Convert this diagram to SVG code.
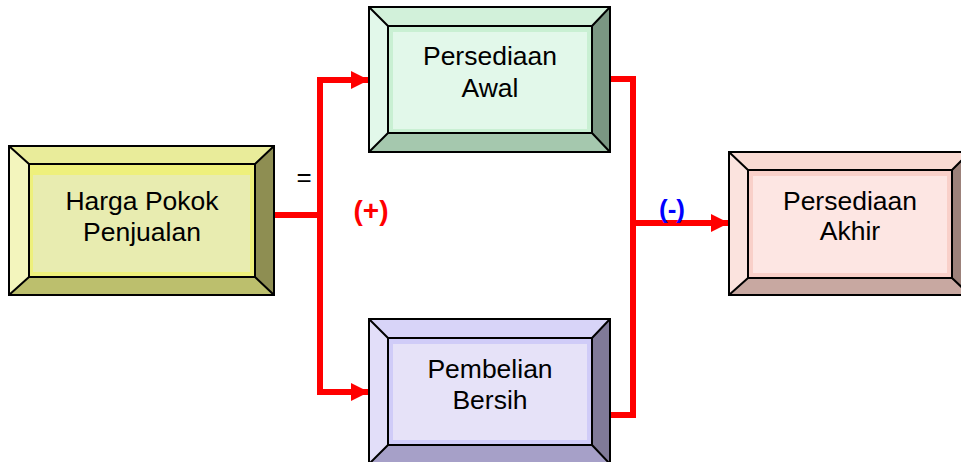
<svg xmlns="http://www.w3.org/2000/svg" width="961" height="462" viewBox="0 0 961 462">
<defs>
<style>
.edge{stroke:#000;stroke-width:2;stroke-linejoin:miter}
.lbl{font-family:"Liberation Sans",Arial,sans-serif;font-size:26.5px;fill:#000;text-anchor:middle}
.conn{fill:none;stroke:#ff0000;stroke-width:6;stroke-linejoin:miter}
.sym{font-family:"Liberation Sans",Arial,sans-serif;font-weight:bold;text-anchor:middle}
</style>
<marker id="arr" viewBox="0 0 10 10" refX="10" refY="5" markerWidth="3" markerHeight="3" markerUnits="strokeWidth" orient="auto">
<path d="M0,0 L10,5 L0,10 Z" fill="#ff0000"/>
</marker>
</defs>
<rect width="961" height="462" fill="#fff"/>

<g id="connectors">
<polyline class="conn" points="274,215 320,215"/>
<polyline class="conn" points="369,80 320,80 320,392 369,392" marker-end="url(#arr)"/>
<polyline class="conn" points="320,80 369,80" marker-end="url(#arr)"/>
<polyline class="conn" points="610,79 633,79 633,415 610,415"/>
<polyline class="conn" points="633,223 729,223" marker-end="url(#arr)"/>
</g>

<g id="node-hpp">
<polygon points="9,146 274,146 255,164 29,164" fill="#e9ec9a"/>
<polygon points="9,146 29,164 29,277 9,295" fill="#f3f5bd"/>
<polygon points="274,146 274,295 255,277 255,164" fill="#8e8e52"/>
<polygon points="9,295 29,277 255,277 274,295" fill="#bcbf6d"/>
<rect x="29" y="164" width="226" height="113" fill="#eef07c"/>
<rect x="33" y="175" width="217" height="97" fill="#e8ecb0"/>
<g class="edge" fill="none">
<rect x="9" y="146" width="265" height="149"/>
<rect x="29" y="164" width="226" height="113"/>
<path d="M9,146 L29,164 M274,146 L255,164 M9,295 L29,277 M274,295 L255,277"/>
</g>
<text class="lbl" x="142" y="210">Harga Pokok</text>
<text class="lbl" x="142" y="241">Penjualan</text>
</g>

<g id="node-awal">
<polygon points="369,7 610,7 592,26 388,26" fill="#d2f1da"/>
<polygon points="369,7 388,26 388,133 369,152" fill="#e2f8ea"/>
<polygon points="610,7 610,152 592,133 592,26" fill="#7a9682"/>
<polygon points="369,152 388,133 592,133 610,152" fill="#a5c8ae"/>
<rect x="388" y="26" width="204" height="107" fill="#c9f0d3"/>
<rect x="393" y="32" width="194" height="97" fill="#e2f8ea"/>
<g class="edge" fill="none">
<rect x="369" y="7" width="241" height="145"/>
<rect x="388" y="26" width="204" height="107"/>
<path d="M369,7 L388,26 M610,7 L592,26 M369,152 L388,133 M610,152 L592,133"/>
</g>
<text class="lbl" x="490" y="65">Persediaan</text>
<text class="lbl" x="490" y="97">Awal</text>
</g>

<g id="node-pembelian">
<polygon points="369,319 610,319 592,338 388,338" fill="#d8d4f8"/>
<polygon points="369,319 388,338 388,445 369,464" fill="#e2def9"/>
<polygon points="610,319 610,464 592,445 592,338" fill="#807a98"/>
<polygon points="369,464 388,445 592,445 610,464" fill="#a6a0c8"/>
<rect x="388" y="338" width="204" height="107" fill="#d0ccf8"/>
<rect x="393" y="344" width="194" height="96" fill="#e6e2f8"/>
<g class="edge" fill="none">
<rect x="369" y="319" width="241" height="145"/>
<rect x="388" y="338" width="204" height="107"/>
<path d="M369,319 L388,338 M610,319 L592,338 M369,464 L388,445 M610,464 L592,445"/>
</g>
<text class="lbl" x="490" y="378">Pembelian</text>
<text class="lbl" x="490" y="409">Bersih</text>
</g>

<g id="node-akhir">
<polygon points="729,152 970,152 952,170 748,170" fill="#f9dad3"/>
<polygon points="729,152 748,170 748,278 729,295" fill="#fbe3de"/>
<polygon points="970,152 970,295 952,278 952,170" fill="#9c817a"/>
<polygon points="729,295 748,278 952,278 970,295" fill="#c8a8a1"/>
<rect x="748" y="170" width="204" height="108" fill="#f9d0c9"/>
<rect x="753" y="176" width="194" height="97" fill="#fde6e3"/>
<g class="edge" fill="none">
<rect x="729" y="152" width="241" height="143"/>
<rect x="748" y="170" width="204" height="108"/>
<path d="M729,152 L748,170 M970,152 L952,170 M729,295 L748,278 M970,295 L952,278"/>
</g>
<text class="lbl" x="850" y="210">Persediaan</text>
<text class="lbl" x="850" y="240">Akhir</text>
</g>

<text x="304" y="186" font-family="Liberation Sans, Arial, sans-serif" font-size="26" text-anchor="middle" fill="#000">=</text>
<text class="sym" x="371" y="220" font-size="28" fill="#ff0000">(+)</text>
<text class="sym" x="672" y="218" font-size="26" fill="#0000ff">(-)</text>
</svg>
